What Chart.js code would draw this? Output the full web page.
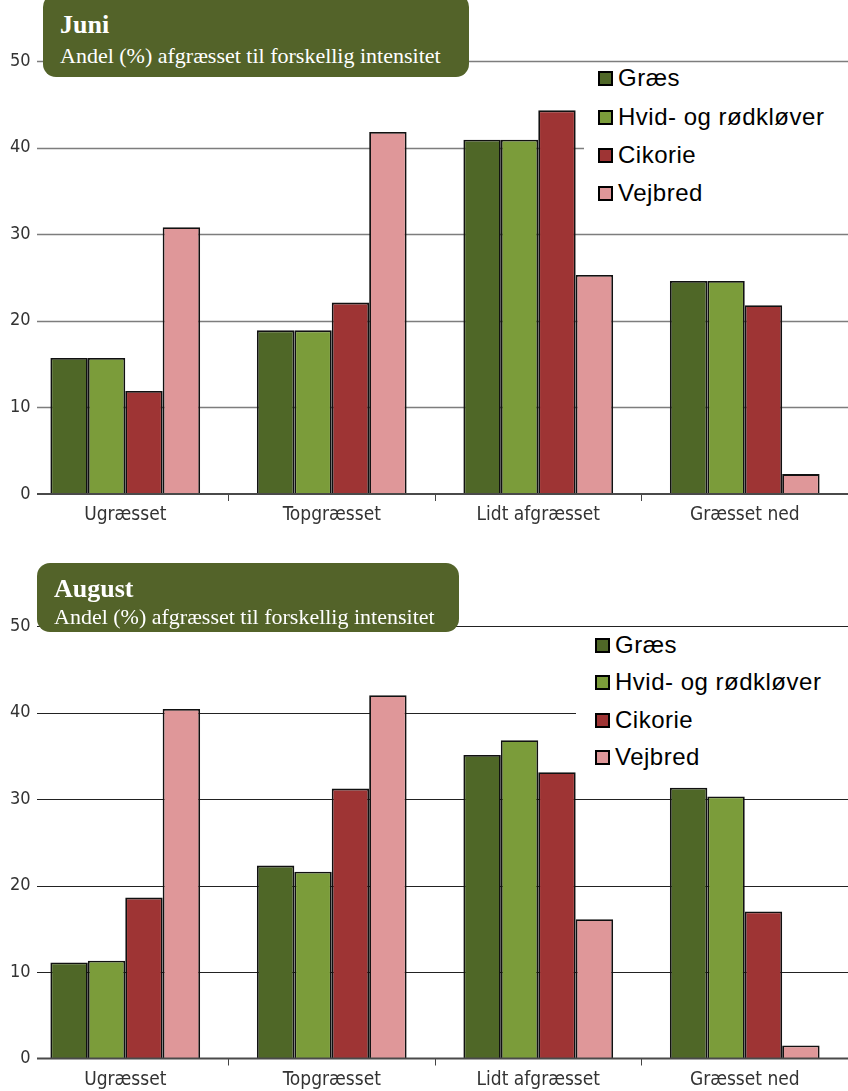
<!DOCTYPE html>
<html lang="da">
<head>
<meta charset="UTF-8">
<title>Andel afgræsset til forskellig intensitet</title>
<script src="https://cdn.jsdelivr.net/npm/chart.js"></script>
<style>
  html, body { margin: 0; padding: 0; background: #fff; overflow: hidden; }
  #wrap { position: relative; width: 848px; height: 1091px; }
  .panel { position: absolute; left: 0; width: 848px; }
  .panel canvas { position: absolute; left: 0; top: 0; }
  .title-box {
    position: absolute; background: #536329; border-radius: 13px; color: #fff;
    font-family: 'Liberation Serif', 'DejaVu Serif', serif;
  }
  .title-box .head { position: absolute; left: 17px; font-size: 26px; font-weight: bold; line-height: 26px; white-space: nowrap; }
  .title-box .sub { position: absolute; left: 17px; font-size: 22px; line-height: 22px; white-space: nowrap; }
  .legend { position: absolute; background: #fff; font-family: 'Liberation Sans', Arial, sans-serif; font-size: 24px; letter-spacing: 0.5px; color: #000; }
  .legend .row { position: absolute; height: 30px; display: flex; align-items: center; white-space: nowrap; }
  .legend .mark { width: 11px; height: 11px; border: 2px solid #000; margin-right: 5px; }
</style>
</head>
<body>
<div id="wrap">
  <div class="panel" id="p1" style="top:0;height:540px">
    <canvas id="c1" width="848" height="540"></canvas>
  </div>
  <div class="panel" id="p2" style="top:560px;height:531px">
    <canvas id="c2" width="848" height="531"></canvas>
  </div>
</div>
<script>
  const categories   = ['Ugræsset', 'Topgræsset', 'Lidt afgræsset', 'Græsset ned'];
  const seriesNames  = ['Græs', 'Hvid- og rødkløver', 'Cikorie', 'Vejbred'];
  const seriesColors = ['#4f6727', '#7b9c3a', '#9e3434', '#df9799'];
  const yTicks       = [0, 10, 20, 30, 40, 50];

  // Juni
  const juniGraes   = [15.7, 18.9, 40.9, 24.6];
  const juniKlover  = [15.7, 18.9, 40.9, 24.6];
  const juniCikorie = [11.9, 22.1, 44.3, 21.8];
  const juniVejbred = [30.8, 41.8, 25.3, 2.3];

  // August
  const augGraes   = [11.1, 22.3, 35.1, 31.3];
  const augKlover  = [11.3, 21.6, 36.8, 30.3];
  const augCikorie = [18.6, 31.2, 33.1, 17.0];
  const augVejbred = [40.4, 42.0, 16.1, 1.5];

  const condensed = "'DejaVu Sans Condensed', 'Liberation Sans Narrow', sans-serif";

  // gridlines start a bit right of the y labels, like the original
  const gridPlugin = {
    id: 'grid',
    beforeDatasetsDraw(chart, args, opts) {
      const y = chart.scales.y, ctx = chart.ctx, a = chart.chartArea;
      ctx.save();
      ctx.strokeStyle = opts.color;
      ctx.lineWidth = opts.width;
      yTicks.forEach(v => {
        if (v === 0) return;
        const py = Math.round(y.getPixelForValue(v)) + 0.5;
        ctx.beginPath(); ctx.moveTo(37, py); ctx.lineTo(a.right, py); ctx.stroke();
      });
      ctx.restore();
    },
    afterDatasetsDraw(chart) {
      const y = chart.scales.y, ctx = chart.ctx, a = chart.chartArea;
      const py = y.getPixelForValue(0);
      ctx.save();
      ctx.strokeStyle = '#4a4a4a';
      ctx.lineWidth = 2;
      ctx.beginPath(); ctx.moveTo(37, py); ctx.lineTo(a.right, py); ctx.stroke();
      ctx.restore();
    }
  };

  function makeChart(canvasId, series, areaTop, areaBottom, gridColor, gridWidth) {
    const H = document.getElementById(canvasId).height;
    return new Chart(document.getElementById(canvasId), {
      type: 'bar',
      data: {
        labels: categories,
        datasets: series.map((d, i) => ({
          label: seriesNames[i],
          data: d,
          backgroundColor: seriesColors[i],
          borderColor: '#111',
          borderWidth: 1.8,
          categoryPercentage: 0.725,
          barPercentage: 1.0
        }))
      },
      options: {
        responsive: false,
        animation: false,
        layout: { padding: { top: areaTop, left: 0, right: 0, bottom: 0 } },
        plugins: {
          legend: { display: false },
          tooltip: { enabled: false },
          grid: { color: gridColor, width: gridWidth }
        },
        scales: {
          x: {
            afterFit: s => { s.height = H - areaBottom; },
            border: { display: false },
            grid: {
              offset: true, drawOnChartArea: false, drawTicks: true, tickLength: 7,
              color: c => c.index === 0 ? 'rgba(0,0,0,0)' : '#444', lineWidth: 1
            },
            ticks: { color: '#333', font: { family: condensed, size: 19 }, padding: 3 }
          },
          y: {
            min: 0, max: 50,
            afterFit: s => { s.width = 22; },
            border: { display: false },
            grid: { display: false, drawTicks: false },
            ticks: {
              stepSize: 10, color: '#333', font: { family: condensed, size: 18 },
              mirror: true, crossAlign: 'far', padding: -12
            }
          }
        }
      },
      plugins: [gridPlugin]
    });
  }

  function addTitle(panelId, head, box, headTop, subTop) {
    const div = document.createElement('div');
    div.className = 'title-box';
    Object.assign(div.style, { left: box[0] + 'px', top: box[1] + 'px', width: box[2] + 'px', height: box[3] + 'px' });
    const h = document.createElement('div');
    h.className = 'head'; h.textContent = head; h.style.top = headTop + 'px';
    const s = document.createElement('div');
    s.className = 'sub'; s.textContent = 'Andel (%) afgræsset til forskellig intensitet'; s.style.top = subTop + 'px';
    div.append(h, s);
    document.getElementById(panelId).appendChild(div);
  }

  function addLegend(panelId, box, markLeft, rowCenters) {
    const div = document.createElement('div');
    div.className = 'legend';
    Object.assign(div.style, { left: box[0] + 'px', top: box[1] + 'px', width: box[2] + 'px', height: box[3] + 'px' });
    seriesNames.forEach((name, i) => {
      const row = document.createElement('div');
      row.className = 'row';
      row.style.left = (markLeft - box[0]) + 'px';
      row.style.top = (rowCenters[i] - box[1] - 15) + 'px';
      const m = document.createElement('span');
      m.className = 'mark'; m.style.background = seriesColors[i];
      const t = document.createElement('span');
      t.textContent = name;
      row.append(m, t);
      div.appendChild(row);
    });
    document.getElementById(panelId).appendChild(div);
  }

  makeChart('c1', [juniGraes, juniKlover, juniCikorie, juniVejbred], 61, 494, '#7d7d7d', 1.5);
  makeChart('c2', [augGraes, augKlover, augCikorie, augVejbred], 66, 498.5, '#222', 1.2);

  addTitle('p1', 'Juni', [43, -6, 426, 83], 18, 51);
  addLegend('p1', [584, 63, 264, 150], 598, [78, 117, 155, 193]);

  addTitle('p2', 'August', [37, 3, 422, 69], 13, 43);
  addLegend('p2', [576, 68, 272, 146], 595, [85, 122, 160, 197]);
</script>
</body>
</html>
